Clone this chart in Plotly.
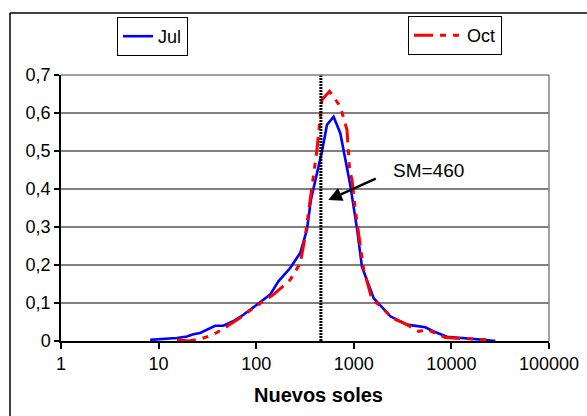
import plotly.graph_objects as go
import math

# ---- data (Nuevos soles, density) ----
jul_x = [8.2, 15.4, 19.5, 22.7, 26.6, 38, 46, 58, 74, 102, 139, 169, 223, 283, 331, 364,
         387, 472, 531, 621, 727, 921, 1079, 1213, 1366, 1597, 2368, 3513, 5408, 6581,
         9030, 13370, 21440, 28260]
jul_y = [0.003, 0.008, 0.012, 0.018, 0.021, 0.040, 0.040, 0.052, 0.069, 0.095, 0.122,
         0.157, 0.192, 0.232, 0.293, 0.372, 0.402, 0.499, 0.569, 0.590, 0.547, 0.410,
         0.295, 0.195, 0.160, 0.113, 0.065, 0.043, 0.036, 0.025, 0.011, 0.008, 0.003, 0.0]

oct_x = [15.4, 20.2, 26.6, 36.5, 50, 68.5, 93.8, 119, 150, 223, 283, 318, 344, 387, 419,
         472, 565, 727, 851, 906, 959, 1036, 1262, 1537, 1796, 2466, 3513, 4620, 5633,
         8670, 16940, 23230]
oct_y = [0.003, 0.0, 0.005, 0.017, 0.038, 0.061, 0.087, 0.104, 0.122, 0.161, 0.205,
         0.275, 0.337, 0.433, 0.503, 0.635, 0.657, 0.617, 0.556, 0.451, 0.424, 0.346,
         0.188, 0.109, 0.096, 0.061, 0.043, 0.025, 0.030, 0.009, 0.006, 0.003]

sm_value = 460
sm_label = "SM=460"

x_tickvals = [1, 10, 100, 1000, 10000, 100000]
x_ticktext = ["1", "10", "100", "1000", "10000", "100000"]
y_tickvals = [0, 0.1, 0.2, 0.3, 0.4, 0.5, 0.6, 0.7]
y_ticktext = ["0", "0,1", "0,2", "0,3", "0,4", "0,5", "0,6", "0,7"]
x_title = "Nuevos soles"

FONT = "Liberation Sans, Arial, sans-serif"

fig = go.Figure()

fig.add_trace(go.Scatter(
    x=jul_x, y=jul_y, mode="lines", name="Jul",
    line=dict(color="#0000ff", width=2.6),
    legend="legend",
))
fig.add_trace(go.Scatter(
    x=oct_x, y=oct_y, mode="lines", name="Oct",
    line=dict(color="#ff0000", width=3, dash="19px,7px,6px,7px,6px,7px"),
    legend="legend2",
))
fig.add_trace(go.Scatter(
    x=[sm_value, sm_value], y=[0, 0.705], mode="lines", showlegend=False,
    line=dict(color="black", width=3, dash="2px,1px"), hoverinfo="skip",
))

W, H = 587, 416
ml, mr, mt, mb = 61, 38, 75, 75
pw = W - ml - mr
ph = H - mt - mb

def px_to_paper_x(px):
    return (px - ml) / pw

def px_to_paper_y(py):
    return (H - mb - py) / ph

shapes = [
    # outer chart frame (top and left edges; the rest lies outside the picture)
    dict(type="line", xref="paper", yref="paper",
         x0=px_to_paper_x(10), x1=px_to_paper_x(587),
         y0=px_to_paper_y(13), y1=px_to_paper_y(13),
         line=dict(color="black", width=1.5)),
    dict(type="line", xref="paper", yref="paper",
         x0=px_to_paper_x(10), x1=px_to_paper_x(10),
         y0=px_to_paper_y(13), y1=px_to_paper_y(416),
         line=dict(color="black", width=1.5)),
    # plot area right border and top
    dict(type="line", xref="paper", yref="paper", x0=1, x1=1, y0=0, y1=1,
         line=dict(color="#808080", width=1.5)),
    dict(type="line", xref="paper", yref="paper", x0=0, x1=1, y0=1, y1=1,
         line=dict(color="#808080", width=1.5)),
]

annotations = [
    # arrow
    dict(x=math.log10(547), y=0.371, xref="x", yref="y", text="", showarrow=True,
         ax=49, ay=-22, arrowhead=2, arrowsize=1.1, arrowwidth=2.5, arrowcolor="black"),
    dict(x=px_to_paper_x(428), y=px_to_paper_y(170), xref="paper", yref="paper",
         text=sm_label, showarrow=False, font=dict(family=FONT, size=19, color="black"),
         xanchor="center", yanchor="middle"),
    dict(x=px_to_paper_x(318), y=px_to_paper_y(395), xref="paper", yref="paper",
         text="<b>" + x_title + "</b>", showarrow=False,
         font=dict(family=FONT, size=20, color="black"),
         xanchor="center", yanchor="middle"),
]

fig.update_layout(
    width=W, height=H,
    margin=dict(l=ml, r=mr, t=mt, b=mb, autoexpand=False),
    paper_bgcolor="white", plot_bgcolor="white",
    font=dict(family=FONT, size=18, color="black"),
    shapes=shapes, annotations=annotations,
    legend=dict(x=px_to_paper_x(117), y=px_to_paper_y(17), xanchor="left", yanchor="top",
                xref="paper", yref="paper",
                bordercolor="black", borderwidth=1, bgcolor="white",
                font=dict(family=FONT, size=18), itemwidth=30),
    legend2=dict(x=px_to_paper_x(408), y=px_to_paper_y(16), xanchor="left", yanchor="top",
                 xref="paper", yref="paper",
                 bordercolor="black", borderwidth=1, bgcolor="white",
                 font=dict(family=FONT, size=18), itemwidth=48),
    xaxis=dict(type="log", range=[0, 5], tickvals=x_tickvals, ticktext=x_ticktext,
               showgrid=False, showline=True, linecolor="black", linewidth=1.5,
               ticks="outside", ticklen=6, tickcolor="black", tickwidth=1.5,
               zeroline=False, tickfont=dict(size=18), automargin=False),
    yaxis=dict(range=[0, 0.7], tickvals=y_tickvals, ticktext=y_ticktext,
               showgrid=True, gridcolor="#808080", gridwidth=1.5,
               showline=True, linecolor="black", linewidth=1.5,
               ticks="outside", ticklen=5, tickcolor="black", tickwidth=1.5,
               zeroline=False, tickfont=dict(size=18), automargin=False),
)

fig.write_html("out.html", config={"displayModeBar": False},
               post_script="document.body.style.margin='0px';document.body.style.overflow='hidden';")
